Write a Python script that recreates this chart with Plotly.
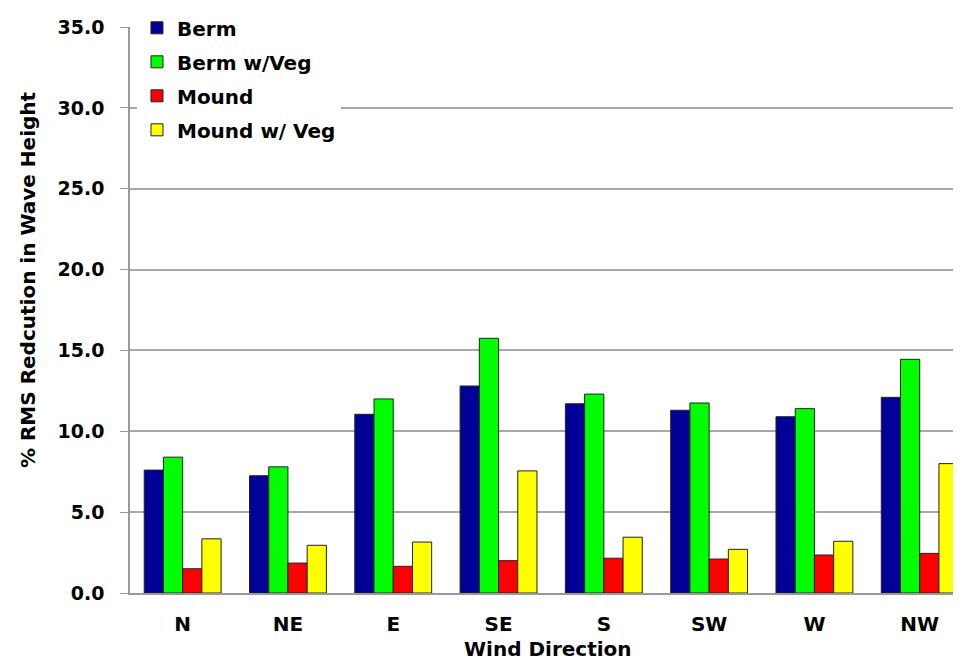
import plotly.graph_objects as go

directions = ["N", "NE", "E", "SE", "S", "SW", "W", "NW"]
berm = [7.6, 7.25, 11.05, 12.8, 11.7, 11.3, 10.9, 12.1]
berm_veg = [8.4, 7.8, 12.0, 15.75, 12.3, 11.75, 11.4, 14.45]
mound = [1.5, 1.85, 1.65, 2.0, 2.15, 2.1, 2.35, 2.45]
mound_veg = [3.35, 2.95, 3.15, 7.55, 3.45, 2.7, 3.2, 8.0]

series = [
    ("Berm", berm, "#000099"),
    ("Berm w/Veg", berm_veg, "#00FF00"),
    ("Mound", mound, "#FF0000"),
    ("Mound w/ Veg", mound_veg, "#FFFF00"),
]

FONT = "DejaVu Sans, Arial, sans-serif"
TITLE_FONT = dict(family=FONT, size=20, color="black", weight="bold")

fig = go.Figure()
for i, (name, vals, col) in enumerate(series):
    fig.add_trace(go.Bar(
        x=directions, y=vals, name=name, legendgroup=f"g{i}",
        marker=dict(color=col, line=dict(color="#222222", width=1)),
    ))

# page has an 8px body margin; figure sized so the page does not overflow
fig.update_layout(
    width=953, height=653,
    margin=dict(l=122, r=0, t=19, b=68),
    paper_bgcolor="white", plot_bgcolor="white",
    barmode="group", bargap=0.27, bargroupgap=0,
    font=dict(family=FONT, size=20, color="black", weight="bold"),
    legend=dict(
        x=0.0084, y=1.033, xanchor="left", yanchor="top",
        bgcolor="white", borderwidth=0,
        font=dict(family=FONT, size=20, color="black", weight="bold"),
        tracegroupgap=5, traceorder="grouped",
        itemwidth=30,
    ),
    showlegend=True,
    annotations=[
        dict(text="% RMS Redcution in Wave Height", textangle=-90,
             xref="paper", yref="paper", x=-0.1227, y=0.553,
             xanchor="center", yanchor="middle", showarrow=False,
             font=TITLE_FONT),
        dict(text="Wind Direction",
             xref="paper", yref="paper", x=0.503, y=-0.0995,
             xanchor="center", yanchor="middle", showarrow=False,
             font=TITLE_FONT),
    ],
)

fig.update_xaxes(
    range=[-0.5, 7.392], showline=True, linecolor="#999999", linewidth=1.5,
    ticks="", ticklabelstandoff=12, showgrid=False, automargin=False,
    tickfont=dict(family=FONT, size=20, weight="bold"),
)

fig.update_yaxes(
    range=[0, 35], tickvals=[0, 5, 10, 15, 20, 25, 30, 35],
    tickformat=".1f", showline=True, linecolor="#999999", linewidth=1.5,
    ticks="outside", ticklen=8, tickcolor="#999999",
    showgrid=True, gridcolor="#a8a8a8", gridwidth=1.5,
    ticklabelstandoff=12, zeroline=False, automargin=False,
    tickfont=dict(family=FONT, size=19, weight="bold"),
)

fig.write_html("out.html")
